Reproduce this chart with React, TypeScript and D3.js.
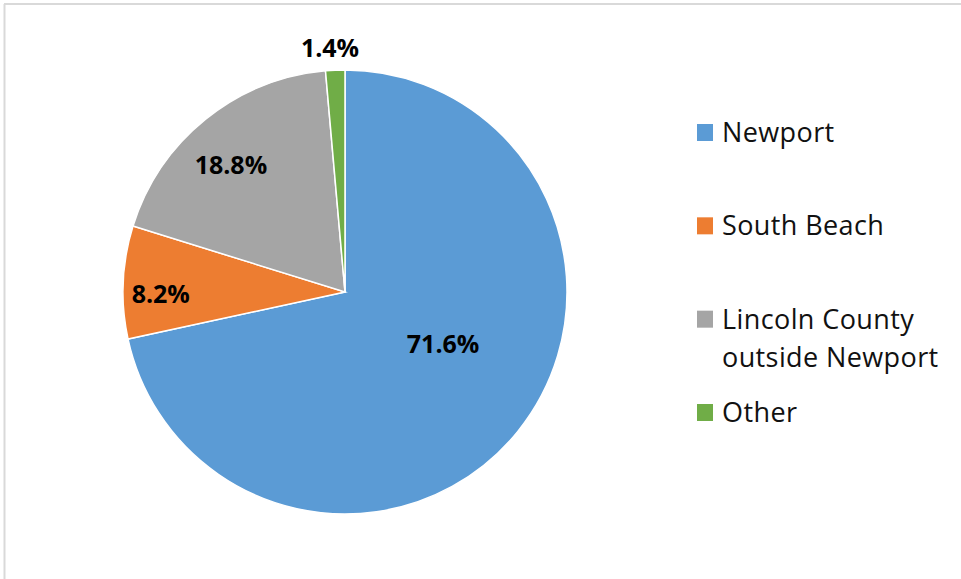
import React from 'react';
import * as d3 from 'd3';

const categories = ['Newport', 'South Beach', 'Lincoln County outside Newport', 'Other'];
const values = [71.6, 8.2, 18.8, 1.4];
const labels = ['71.6%', '8.2%', '18.8%', '1.4%'];
const legendLines = [['Newport'], ['South Beach'], ['Lincoln County', 'outside Newport'], ['Other']];
const colors = ['#5B9BD5', '#ED7D31', '#A5A5A5', '#70AD47'];
// label placement (fraction of radius, angle nudge in degrees), like Excel's best fit
const labelRadius = [0.5, 0.83, 0.77, 1.1];
const labelNudge = [-11, -3, -3, -1];

const width = 961;
const height = 579;
const cx = 345;
const cy = 292;
const radius = 222;

const App: React.FC = () => {
    const pie = d3.pie<number>().sort(null).value(d => d);
    const arcs = pie(values);
    const arc = d3.arc<d3.PieArcDatum<number>>().innerRadius(0).outerRadius(radius);
    const legendY = d3.scaleLinear().domain([0, 3]).range([142, 422]);

    return (
        <svg width={width} height={height} style={{ position: 'absolute', left: 0, top: 0, background: '#fff' }}>
            <line x1={4} y1={4} x2={width} y2={4} stroke="#d9d9d9" strokeWidth={2} />
            <line x1={4.5} y1={4} x2={4.5} y2={height} stroke="#d9d9d9" strokeWidth={2} />
            <g transform={`translate(${cx},${cy})`}>
                {arcs.map((a, i) => (
                    <path key={categories[i]} d={arc(a) || ''} fill={colors[i]} stroke="#fff" strokeWidth={1.5} />
                ))}
                {arcs.map((a, i) => {
                    const ang = (a.startAngle + a.endAngle) / 2 + (labelNudge[i] * Math.PI) / 180;
                    const r = radius * labelRadius[i];
                    return (
                        <text key={labels[i]} x={r * Math.sin(ang)} y={-r * Math.cos(ang)} dy="0.36em"
                            textAnchor="middle" fontFamily="'Open Sans', sans-serif" fontWeight="bold"
                            fontSize={25} fill="#000">
                            {labels[i]}
                        </text>
                    );
                })}
            </g>
            <g fontFamily="'Open Sans', sans-serif" fontSize={27} letterSpacing={0.4} fill="#111">
                {legendLines.map((lines, i) => (
                    <g key={categories[i]}>
                        <rect x={697} y={legendY(i) - 18} width={16} height={17} fill={colors[i]} />
                        {lines.map((t, j) => (
                            <text key={t} x={722} y={legendY(i) + j * 38}>{t}</text>
                        ))}
                    </g>
                ))}
            </g>
        </svg>
    );
};

export default App;
